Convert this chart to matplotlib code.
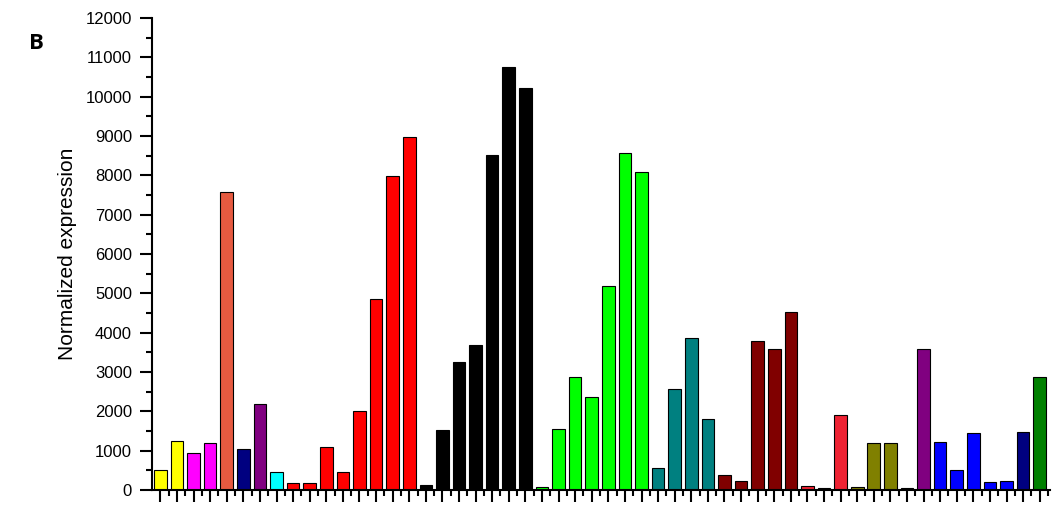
import numpy as np
import matplotlib.pyplot as plt
from matplotlib.ticker import MultipleLocator

# expression values, one bar per sample
values = [500, 1250, 950, 1200, 7580, 1050, 2200, 450,
          170, 170, 1100, 470, 2000, 4870, 7980, 8970,
          120, 1520, 3250, 3700, 8530, 10750, 10220,
          80, 1560, 2880, 2360, 5200, 8560, 8080,
          560, 2570, 3860, 1800,
          380, 230, 3800, 3580, 4520,
          100, 60, 1900,
          90, 1200, 1200,
          50, 3580,
          1230, 500, 1460, 210, 220,
          1480, 2880]

colors = (['#FFFF00'] * 2 + ['#FF00FF'] * 2 + ['#E65A40', '#000080', '#800080', '#00FFFF']
          + ['#FF0000'] * 8 + ['#000000'] * 7 + ['#00FF00'] * 7 + ['#008080'] * 4
          + ['#800000'] * 5 + ['#EE2233'] * 3 + ['#808000'] * 3 + ['#800080'] * 2
          + ['#0000FF'] * 5 + ['#000080', '#008000'])

plt.rcParams['font.family'] = ['Liberation Sans', 'DejaVu Sans']

fig = plt.figure(figsize=(10.56, 5.17), dpi=100)
ax = fig.add_axes([0.144, 0.052, 0.85, 0.913])

x = np.arange(len(values))
ax.bar(x, values, width=0.76, color=colors, edgecolor='black', linewidth=0.8)

ax.set_xlim(-0.5, len(values) - 0.4)
ax.set_ylim(0, 12000)

ax.spines['top'].set_visible(False)
ax.spines['right'].set_visible(False)
ax.spines['left'].set_linewidth(1.5)
ax.spines['bottom'].set_linewidth(1.5)

ax.yaxis.set_major_locator(MultipleLocator(1000))
ax.yaxis.set_minor_locator(MultipleLocator(500))
ax.tick_params(axis='y', which='major', direction='out', length=8.5, width=1.5,
               labelsize=12, pad=6)
ax.tick_params(axis='y', which='minor', direction='out', length=4.5, width=1.5)

ax.set_xticks(x)
ax.set_xticks(x + 0.5, minor=True)
ax.set_xticklabels([])
ax.tick_params(axis='x', which='major', direction='out', length=8.5, width=1.5)
ax.tick_params(axis='x', which='minor', direction='out', length=4.5, width=1.5)

ax.set_ylabel('Normalized expression', fontsize=15, labelpad=6)

fig.text(0.027, 0.905, 'B', fontsize=16, fontweight='bold', family='Open Sans')

fig.savefig('out.png', dpi=100)
